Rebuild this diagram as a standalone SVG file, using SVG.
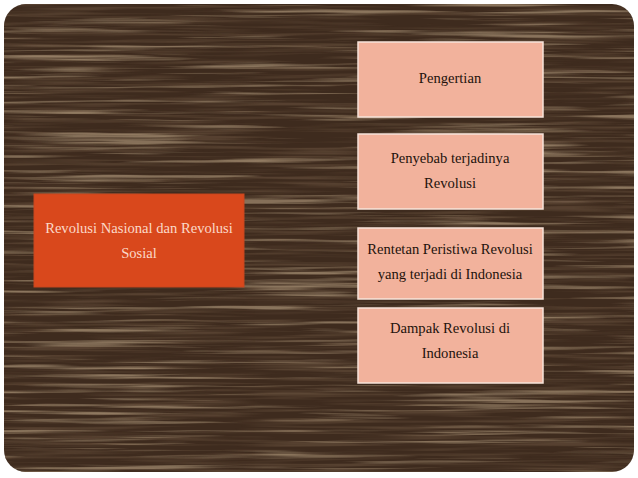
<svg xmlns="http://www.w3.org/2000/svg" width="638" height="478" viewBox="0 0 638 478">
<defs>
<clipPath id="panel"><rect x="4" y="4" width="630" height="468" rx="22" ry="22"/></clipPath>
<filter id="grain" x="0" y="0" width="100%" height="100%">
<feTurbulence type="fractalNoise" baseFrequency="0.005 0.2" numOctaves="3" seed="11" result="n"/>
<feColorMatrix in="n" type="matrix" values="0 0 0 0 0.72  0 0 0 0 0.56  0 0 0 0 0.36  0 0 0 4.5 -2.45"/>
</filter>
<filter id="dark" x="0" y="0" width="100%" height="100%">
<feTurbulence type="fractalNoise" baseFrequency="0.008 0.3" numOctaves="2" seed="3" result="n"/>
<feColorMatrix in="n" type="matrix" values="0 0 0 0 0.12  0 0 0 0 0.07  0 0 0 0 0.04  0 0 0 3 -1.3"/>
</filter>
<style>
.box{fill:#f2b29c;stroke:#f7e4da;stroke-width:1.5}
.main{fill:#d9481c;stroke:#c8461e;stroke-width:1}
.t{font-family:"Liberation Serif","DejaVu Serif",serif;font-size:14.6px;text-anchor:middle;fill:#24120c}
.tw{font-family:"Liberation Serif","DejaVu Serif",serif;font-size:14.6px;text-anchor:middle;fill:#fbd9c8}
</style>
</defs>
<rect x="0" y="0" width="638" height="478" fill="#ffffff"/>
<g clip-path="url(#panel)">
<rect x="4" y="4" width="630" height="468" fill="#3e2b1e"/>
<rect x="4" y="4" width="630" height="468" filter="url(#dark)" opacity="0.7"/>
<rect x="4" y="4" width="630" height="468" filter="url(#grain)" opacity="0.45"/>
</g>
<g id="connectors"></g>
<g id="main">
<rect class="main" x="34" y="194" width="210" height="93"/>
<text class="tw" x="139" y="233">Revolusi Nasional dan Revolusi</text>
<text class="tw" x="139" y="258">Sosial</text>
</g>
<g id="pengertian">
<rect class="box" x="358" y="42" width="185" height="75"/>
<text class="t" x="450" y="83">Pengertian</text>
</g>
<g id="penyebab">
<rect class="box" x="358" y="134" width="185" height="75"/>
<text class="t" x="450" y="163">Penyebab terjadinya</text>
<text class="t" x="450" y="188">Revolusi</text>
</g>
<g id="rentetan">
<rect class="box" x="358" y="228" width="185" height="71"/>
<text class="t" x="450" y="254">Rentetan Peristiwa Revolusi</text>
<text class="t" x="450" y="279">yang terjadi di Indonesia</text>
</g>
<g id="dampak">
<rect class="box" x="358" y="308" width="185" height="75"/>
<text class="t" x="450" y="333">Dampak Revolusi di</text>
<text class="t" x="450" y="358">Indonesia</text>
</g>
</svg>
